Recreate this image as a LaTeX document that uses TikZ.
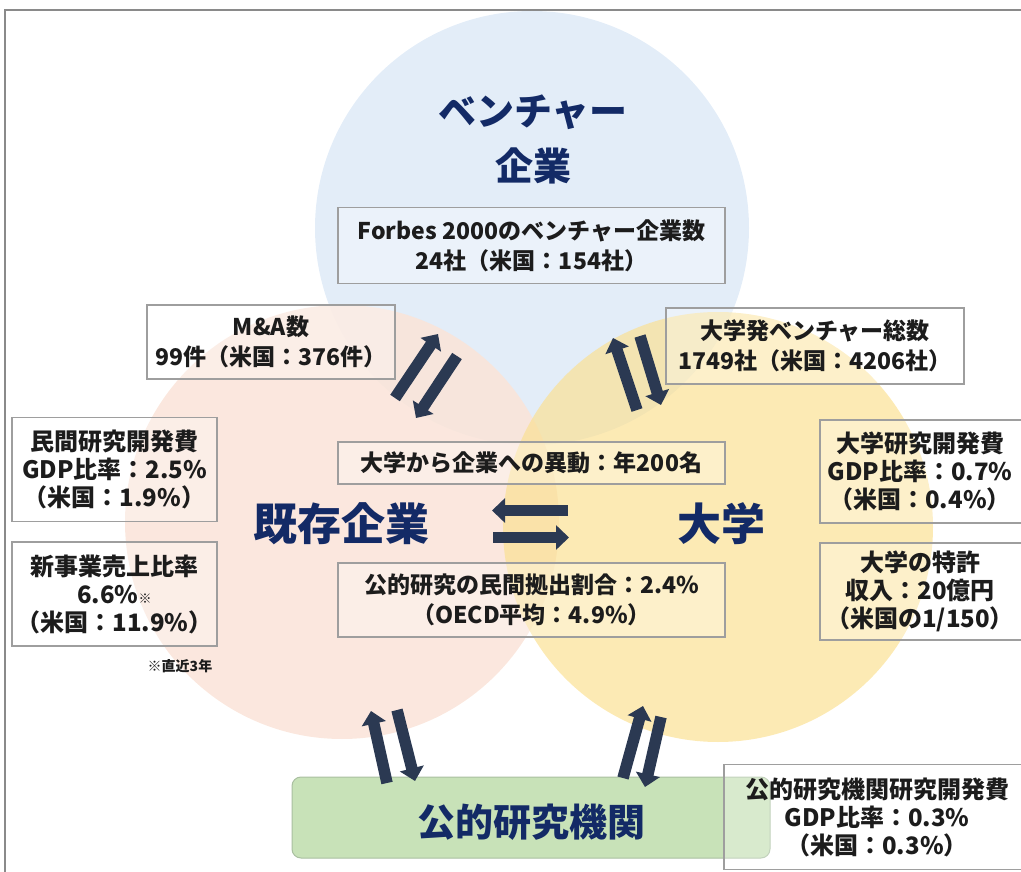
\documentclass[tikz,border=0pt]{standalone}
\usepackage{fontspec}
\setmainfont{Noto Sans CJK JP}
\usetikzlibrary{arrows.meta}
\definecolor{bluec}{HTML}{E3EDF8}
\definecolor{orangec}{HTML}{FAE4D9}
\definecolor{yellowc}{HTML}{FBE091}
\definecolor{greenc}{HTML}{C8E2B8}
\definecolor{greenedge}{HTML}{A9BFA0}
\definecolor{boxgray}{HTML}{9E9E9E}
\definecolor{framec}{HTML}{8A8A8A}
\definecolor{navy}{HTML}{132A66}
\definecolor{arrowc}{HTML}{2B3952}
\definecolor{textc}{HTML}{1C1C1C}
\tikzset{
  infobox/.style={draw=boxgray, line width=1.3pt, fill=white, fill opacity=0.3, text opacity=1,
    align=center, inner sep=0pt, text=textc, font=\bfseries\fontsize{23}{30}\selectfont},
  infobox3/.style={infobox, font=\bfseries\fontsize{24}{28}\selectfont},
  infotext3/.style={align=center, inner sep=0pt, text=textc, font=\bfseries\fontsize{24}{28}\selectfont},
  headtext/.style={text=navy, font=\bfseries\fontsize{38}{55}\selectfont, align=center, inner sep=0pt},
  bighead/.style={text=navy, font=\bfseries\fontsize{44}{50}\selectfont, inner sep=0pt},
  blockarrow/.style={draw=arrowc, line width=11.5pt, -{Triangle[width=24pt,length=13pt]}},
}
\begin{document}
\begin{tikzpicture}[x=1pt,y=-1pt]
\useasboundingbox (0,0) rectangle (1021,872);
\begin{scope}
\clip (0,0) rectangle (1021,872);
% frame
\draw[framec, line width=2pt] (1025,10) -- (5,10) -- (5,875);
% circles
\fill[bluec] (532,228) circle (217pt);
\fill[orangec, fill opacity=0.88] (342,522) circle (217pt);
\fill[yellowc, fill opacity=0.68] (718,527) circle (215pt);
% green box
\node[draw=greenedge, fill=greenc, rounded corners=9pt, line width=1pt,
      minimum width=478pt, minimum height=81pt, inner sep=0pt] (kikan) at (531,817.5) {};
\node[text=navy, font=\bfseries\fontsize{38}{40}\selectfont, inner sep=0pt] (kikantxt) at (531,822) {公的研究機関};
% headings
\node[headtext] (venture) at (533,139) {ベンチャー\\企業};
\node[bighead] (kizon) at (341,524) {既存企業};
\node[bighead] (daigaku) at (721,524) {大学};
% info boxes
\node[infobox, minimum width=387pt, minimum height=76pt] (forbes) at (531.5,245.5)
  {Forbes 2000のベンチャー企業数\\24社（米国：154社）};
\node[infobox, minimum width=248pt, minimum height=74pt] (ma) at (271,342)
  {M\&A数\\99件（米国：376件）};
\node[infobox, minimum width=298pt, minimum height=76pt] (univv) at (815,346)
  {大学発ベンチャー総数\\1749社（米国：4206社）};
\node[infobox3, minimum width=205pt, minimum height=104pt] (minkan) at (114.5,469.5)
  {民間研究開発費\\GDP比率：2.5\%\\（米国：1.9\%）};
\node[infobox3, minimum width=205pt, minimum height=104pt] (shinjigyo) at (114.5,594)
  {新事業売上比率\\6.6\%{\fontsize{13}{13}\selectfont ※}\\（米国：11.9\%）};
\node[font=\bfseries\fontsize{14}{14}\selectfont, text=textc, inner sep=0pt] (note) at (180,666) {※直近3年};
\node[infobox, minimum width=387pt, minimum height=42pt] (idou) at (531.5,463)
  {大学から企業への異動：年200名};
\node[infobox, minimum width=387pt, minimum height=74pt] (public) at (531.5,600)
  {公的研究の民間拠出割合：2.4\%\\（OECD平均：4.9\%）};
\node[infobox, minimum width=210pt, minimum height=103pt] (urdbox) at (925,471.5) {};
\node[infotext3] (urd) at (920,471.5) {大学研究開発費\\GDP比率：0.7\%\\（米国：0.4\%）};
\node[infobox, minimum width=210pt, minimum height=97pt] (patentbox) at (925,591.5) {};
\node[infotext3] (patent) at (920,591.5) {大学の特許\\収入：20億円\\（米国の1/150）};
\node[infobox3, minimum width=306pt, minimum height=105pt, text width=296pt] (krd) at (877,817)
  {公的研究機関研究開発費\\GDP比率：0.3\%\\（米国：0.3\%）};
% arrow end points
\coordinate (a1s) at (395,398); \coordinate (a1e) at (438,334);
\coordinate (a2s) at (457,356); \coordinate (a2e) at (416,418);
\coordinate (a3s) at (637,410); \coordinate (a3e) at (613,338);
\coordinate (a4s) at (640,336); \coordinate (a4e) at (661,405);
\coordinate (a5s) at (568,510.5); \coordinate (a5e) at (492,510.5);
\coordinate (a6s) at (493,537.5); \coordinate (a6e) at (569,537.5);
\coordinate (a7s) at (387,783); \coordinate (a7e) at (371,711);
\coordinate (a8s) at (397,710); \coordinate (a8e) at (415,781);
\coordinate (a9s) at (623,778); \coordinate (a9e) at (643,706);
\coordinate (a10s) at (661,717); \coordinate (a10e) at (645,787);
\foreach \i in {1,...,10} { \draw[blockarrow] (a\i s) -- (a\i e); }
\end{scope}
\end{tikzpicture}
\end{document}
